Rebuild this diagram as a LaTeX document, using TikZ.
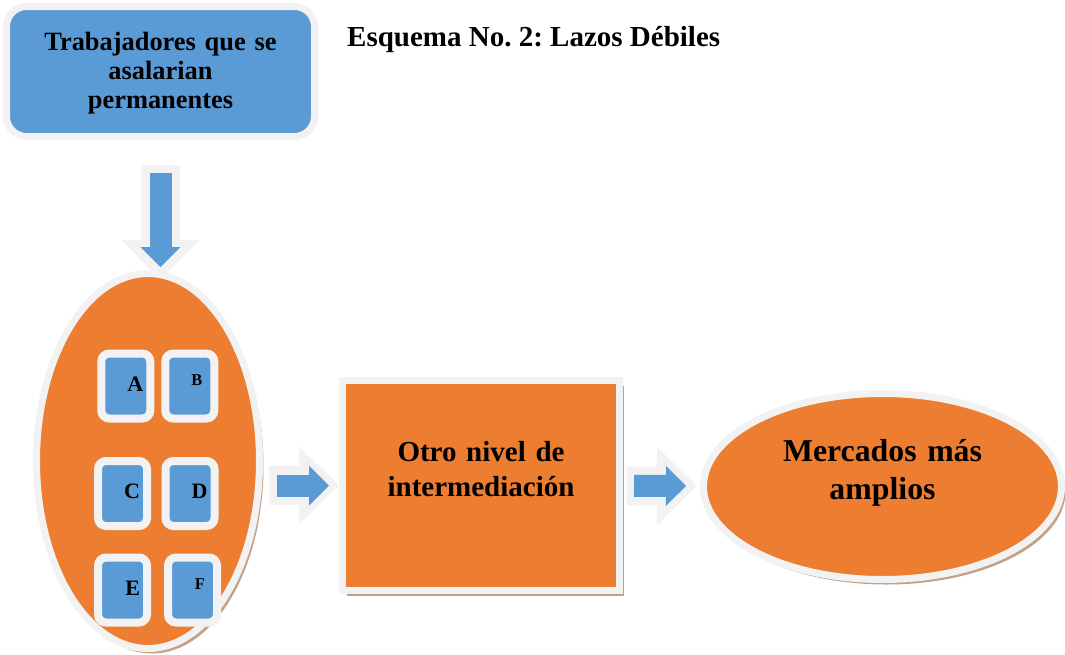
\documentclass[tikz,border=0pt]{standalone}
\usepackage{fontspec}
\setmainfont{Liberation Serif}
\usetikzlibrary{positioning,shapes.geometric,shadows,arrows.meta,backgrounds}
\definecolor{cellblue}{RGB}{91,155,213}
\definecolor{cellorange}{RGB}{237,125,49}
\definecolor{rimgray}{RGB}{242,242,242}
\definecolor{shadowtan}{RGB}{196,160,135}
\frenchspacing
\tikzset{
  rim/.style={draw=rimgray,line width=7pt,inner sep=0pt},
  shadowed/.style={drop shadow={shadow xshift=4pt,shadow yshift=-5pt,fill=shadowtan,opacity=1}},
  cell/.style={rim,line width=8pt,fill=cellblue,rounded corners=8pt,minimum width=49pt,minimum height=65pt,
    text width=35pt,align=right,text depth=4pt,font=\fontsize{22}{24}\selectfont\bfseries},
  small cell/.style={cell,text width=25pt,text depth=12pt,font=\fontsize{16.5}{18}\selectfont\bfseries},
  rim arrow/.style={draw=rimgray,line width=39pt,-{Triangle[length=40pt,width=78pt,line width=0pt]}},
  fill arrow/.style={draw=cellblue,line width=22pt,-{Triangle[length=20pt,width=40pt,line width=0pt]}}
}
\begin{document}
\begin{tikzpicture}[x=1pt,y=-1pt]
\useasboundingbox (0,0) rectangle (1065,654);
\node (0) [rim,fill=cellblue,rounded corners=20pt,minimum width=308pt,minimum height=130pt,text width=290pt,align=center,
  text height=22pt,font=\fontsize{26.4}{29}\selectfont\bfseries] at (160.5,71.5) {Trabajadores que se\\asalarian\\permanentes};
\node (t) [anchor=base west,inner sep=0pt,font=\fontsize{29}{34}\selectfont\bfseries] at (347,46) {Esquema No. 2: Lazos Débiles};
\node (1) [rim,fill=cellorange,ellipse,minimum width=223pt,minimum height=375pt,shadowed] at (148,461) {};
\node (A) [cell] at (125.8,386) {A};
\node (B) [small cell,right=7pt of A] {B};
\node (C) [cell] at (122.5,493.5) {C};
\node (D) [cell,right=10.5pt of C] {D};
\node (E) [cell] at (122.5,590) {E};
\node (F) [small cell,right=13pt of E] {F};
\node (2) [rim,fill=cellorange,minimum width=277pt,minimum height=210pt,text width=260pt,align=center,text depth=69pt,
  shadowed,font=\fontsize{29}{35}\selectfont\bfseries] at (481,485.5) {Otro nivel de\\intermediación};
\node (3) [rim,fill=cellorange,ellipse,minimum width=358pt,minimum height=186pt,text width=230pt,align=center,text depth=72pt,
  shadowed,font=\fontsize{31.8}{38}\selectfont\bfseries] at (882.5,486.5) {Mercados más\\amplios};
\begin{scope}[on background layer]
\draw[rim arrow,shorten <=25pt,shorten >=-10pt] (0.south) -- (0.south |- 1.north);
\draw[fill arrow,shorten <=33pt,shorten >=3pt] (0.south) -- (0.south |- 1.north);
\draw[rim arrow,shorten <=6pt] (1.east |- 2) -- (2);
\draw[fill arrow,shorten <=14pt,shorten >=10pt] (1.east |- 2) -- (2);
\draw[rim arrow,shorten <=4pt,shorten >=3pt] (2) -- (3);
\draw[fill arrow,shorten <=11pt,shorten >=14pt] (2) -- (3);
\end{scope}
\end{tikzpicture}
\end{document}
